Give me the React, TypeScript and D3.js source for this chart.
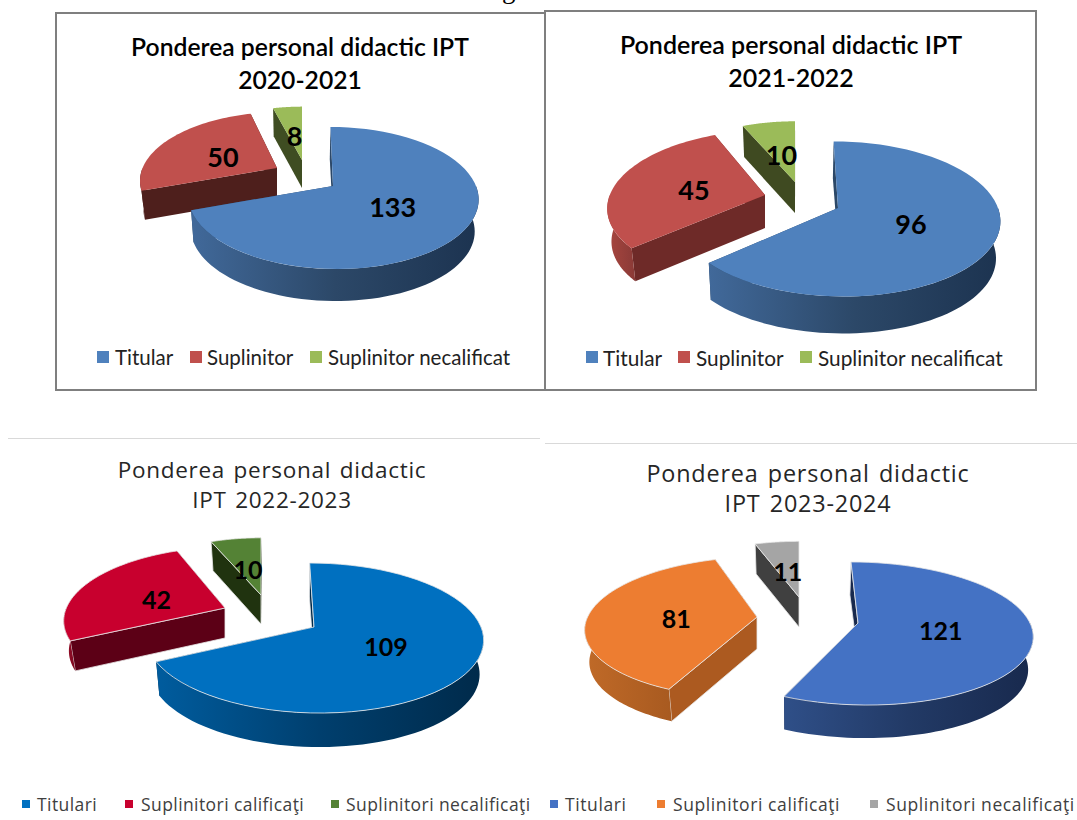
import * as d3 from "d3";

const legendTop = ["Titular", "Suplinitor", "Suplinitor necalificat"];
const legendBottom = ["Titulari", "Suplinitori calificaţi", "Suplinitori necalificaţi"];

const values2021 = [133, 50, 8];
const values2122 = [96, 45, 10];
const values2223 = [109, 42, 10];
const values2324 = [121, 81, 11];

const titles2021 = ["Ponderea personal didactic IPT", "2020-2021"];
const titles2122 = ["Ponderea personal didactic IPT", "2021-2022"];
const titles2223 = ["Ponderea personal didactic", "IPT 2022-2023"];
const titles2324 = ["Ponderea personal didactic", "IPT 2023-2024"];

const topFont = "Lato, 'Open Sans', sans-serif";
const bottomFont = "'Open Sans', 'Noto Sans', sans-serif";
const labelR = 0.48;
const converge = 0.022; // lower rim sits a bit closer to the middle than the upper one

type SliceStyle = {
  cx: number;
  cy: number;
  scale: number;
  skew: number;
  depth: number;
  top: string;
  face: string;
  side: string[];
};

type Panel = {
  id: string;
  values: number[];
  rx: number;
  ry: number;
  persp: number;
  vx: number;
  outline: boolean;
  labelSize: number;
  slices: SliceStyle[];
};

const panels: Panel[] = [
  {
    id: "p1",
    values: values2021,
    rx: 143,
    ry: 69,
    persp: 0.169,
    vx: 300,
    outline: false,
    labelSize: 27,
    slices: [
      { cx: 333, cy: 186, scale: 1, skew: -3, depth: 32, top: "#4f81bd", face: "#2c4868", side: ["#41699a", "#2c4868", "#1c3350"] },
      { cx: 277, cy: 168, scale: 0.94, skew: 5, depth: 29, top: "#c0504d", face: "#4e1f1c", side: ["#4e1f1c", "#4e1f1c"] },
      { cx: 302, cy: 160, scale: 0.89, skew: 0, depth: 28, top: "#9bbb59", face: "#3f4d22", side: ["#6f8a3f", "#56702f"] },
    ],
  },
  {
    id: "p2",
    values: values2122,
    rx: 160,
    ry: 76,
    persp: 0.141,
    vx: 800,
    outline: false,
    labelSize: 27,
    slices: [
      { cx: 838, cy: 208, scale: 1, skew: -5, depth: 37, top: "#4f81bd", face: "#2c4868", side: ["#41699a", "#2c4868", "#1c3350"] },
      { cx: 765, cy: 195, scale: 0.97, skew: 7, depth: 33, top: "#c0504d", face: "#6e2a28", side: ["#a8463f", "#8a3a37"] },
      { cx: 795, cy: 182, scale: 0.9, skew: 0, depth: 31, top: "#9bbb59", face: "#3f4a21", side: ["#6f8a3f", "#56702f"] },
    ],
  },
  {
    id: "p3",
    values: values2223,
    rx: 167,
    ry: 73.4,
    persp: 0.147,
    vx: 300,
    outline: true,
    labelSize: 25,
    slices: [
      { cx: 314, cy: 627, scale: 1, skew: -5, depth: 34, top: "#0070c0", face: "#002a4a", side: ["#005c9e", "#003f6e", "#002a4a"] },
      { cx: 225, cy: 608, scale: 0.95, skew: 7, depth: 30, top: "#c8002e", face: "#5c0016", side: ["#a00a28", "#7a0a20"] },
      { cx: 261, cy: 595, scale: 0.88, skew: 0, depth: 29, top: "#548235", face: "#20330f", side: ["#3f6428", "#2f4c1c"] },
    ],
  },
  {
    id: "p4",
    values: values2324,
    rx: 172,
    ry: 70,
    persp: 0.147,
    vx: 800,
    outline: true,
    labelSize: 25,
    slices: [
      { cx: 858, cy: 623, scale: 1, skew: -8, depth: 33, top: "#4472c4", face: "#18294d", side: ["#2f4f88", "#223a66", "#18294d"] },
      { cx: 757, cy: 617, scale: 0.985, skew: 7, depth: 32, top: "#ed7d31", face: "#ac5a20", side: ["#c06a28", "#a85a20"] },
      { cx: 799, cy: 597, scale: 0.9, skew: 0, depth: 30, top: "#a5a5a5", face: "#404040", side: ["#666666", "#505050"] },
    ],
  },
];

const pie = d3
  .pie<number>()
  .sort(null)
  .value((d) => d)
  .startAngle(0)
  .endAngle(Math.PI * 2);

const line = d3.line<[number, number]>();

function PiePanel({ panel }: { panel: Panel }) {
  const arcs = pie(panel.values);

  const project = (s: SliceStyle, angle: number, r: number, drop = 0): [number, number] => {
    const X = Math.sin(angle) * r * s.scale;
    const Y = Math.cos(angle) * r * s.scale;
    const k = 1 / (1 + panel.persp * Y);
    const x = s.cx + k * (panel.rx * X + s.skew * Y);
    return [
      drop ? x + (panel.vx - x) * converge : x,
      s.cy - k * panel.ry * Y + drop,
    ];
  };

  const arcPoints = (s: SliceStyle, a0: number, a1: number, drop = 0) =>
    d3.range(0, 61).map((i) => project(s, a0 + ((a1 - a0) * i) / 60, 1, drop));

  // painter's order: small far slice first, the big front slice last
  const order = [2, 1, 0];

  return (
    <g>
      <defs>
        {panel.slices.map((s, i) => (
          <linearGradient key={i} id={`${panel.id}-side-${i}`} x1="0" x2="1" y1="0" y2="0">
            {s.side.map((c, j) => (
              <stop key={j} offset={j / (s.side.length - 1)} stopColor={c} />
            ))}
          </linearGradient>
        ))}
      </defs>
      {order.map((i) => {
        const s = panel.slices[i];
        const a = arcs[i];
        const apex = project(s, 0, 0);
        const apexLow: [number, number] = [apex[0], apex[1] + s.depth];
        const from = Math.max(a.startAngle, Math.PI / 2);
        const to = Math.min(a.endAngle, (Math.PI * 3) / 2);
        const hasSide = to > from;
        const sideTop = hasSide ? arcPoints(s, from, to) : [];
        const sideLow = hasSide ? arcPoints(s, from, to, s.depth).reverse() : [];
        const startPt = project(s, a.startAngle, 1);
        const startLow = project(s, a.startAngle, 1, s.depth);
        const endPt = project(s, a.endAngle, 1);
        const endLow = project(s, a.endAngle, 1, s.depth);
        const edge = panel.outline ? "#e8e8e8" : "none";
        const mid = (a.startAngle + a.endAngle) / 2;
        const [lx, ly] = project(s, mid, labelR);
        return (
          <g key={i}>
            <path d={line([apex, endPt, endLow, apexLow])! + "Z"} fill={s.face} />
            <path d={line([apex, startPt, startLow, apexLow])! + "Z"} fill={s.face} stroke={edge} strokeWidth={0.8} />
            {hasSide && (
              <path
                d={line([...sideTop, ...sideLow])! + "Z"}
                fill={`url(#${panel.id}-side-${i})`}
              />
            )}
            <path
              d={line([apex, ...arcPoints(s, a.startAngle, a.endAngle)])! + "Z"}
              fill={s.top}
              stroke={edge}
              strokeWidth={0.8}
            />
            <text
              x={lx}
              y={ly + (i > 0 ? 2.5 : 0)}
              textAnchor="middle"
              dominantBaseline="central"
              fontFamily={topFont}
              fontWeight={700}
              fontSize={panel.labelSize}
              fill="#000"
            >
              {panel.values[i]}
            </text>
          </g>
        );
      })}
    </g>
  );
}

function Title({ lines, x, y, step, font, size, weight, spacing }: {
  lines: string[]; x: number; y: number; step: number; font: string; size: number; weight: number; spacing: number;
}) {
  return (
    <>
      {lines.map((t, i) => (
        <text
          key={t}
          x={x}
          y={y + i * step}
          textAnchor="middle"
          fontFamily={font}
          fontSize={size}
          fontWeight={weight}
          letterSpacing={spacing}
          wordSpacing={spacing * 3}
          fill={weight > 500 ? "#000" : "#262626"}
        >
          {t}
        </text>
      ))}
    </>
  );
}

function Legend({ names, colors, markX, textX, y, box, font, size, color, spacing }: {
  names: string[]; colors: string[]; markX: number[]; textX: number[]; y: number; box: number; font: string; size: number; color: string; spacing: number;
}) {
  return (
    <>
      {names.map((n, i) => (
        <g key={n}>
          <rect x={markX[i]} y={y - box / 2} width={box} height={box} fill={colors[i]} />
          <text x={textX[i]} y={y} dominantBaseline="central" fontFamily={font} fontSize={size} letterSpacing={spacing} fill={color}>
            {n}
          </text>
        </g>
      ))}
    </>
  );
}

export default function App() {
  return (
    <svg
      width={1077}
      height={820}
      style={{ position: "absolute", left: 0, top: 0, background: "#fff" }}
    >
      <text x={502} y={-2} fontFamily="'Liberation Serif', serif" fontSize={27} fill="#000">g</text>

      <rect x={56} y={13} width={489} height={377} fill="#fff" stroke="#7f7f7f" strokeWidth={2} />
      <rect x={545} y={11} width={491} height={379} fill="#fff" stroke="#7f7f7f" strokeWidth={2} />
      <line x1={8} x2={540} y1={438.5} y2={438.5} stroke="#d9d9d9" />
      <line x1={545} x2={1077} y1={443.5} y2={443.5} stroke="#d9d9d9" />

      <Title lines={titles2021} x={300} y={56} step={33} font={topFont} size={24.7} weight={600} spacing={0} />
      <Title lines={titles2122} x={791} y={54} step={33} font={topFont} size={25} weight={600} spacing={0} />
      <Title lines={titles2223} x={272} y={478} step={30} font={bottomFont} size={22.5} weight={400} spacing={0.7} />
      <Title lines={titles2324} x={808} y={482} step={30} font={bottomFont} size={23.4} weight={400} spacing={0.8} />

      {panels.map((p) => (
        <PiePanel key={p.id} panel={p} />
      ))}

      <Legend names={legendTop} colors={["#4f81bd", "#c0504d", "#9bbb59"]} markX={[97, 190, 310]} textX={[115, 207, 328]} y={357} box={12} font={topFont} size={20.5} color="#222" spacing={0} />
      <Legend names={legendTop} colors={["#4f81bd", "#c0504d", "#9bbb59"]} markX={[586, 678, 800]} textX={[603, 696, 818]} y={357} box={12} font={topFont} size={20.8} color="#222" spacing={0} />
      <Legend names={legendBottom} colors={["#0070c0", "#c8002e", "#548235"]} markX={[22, 125, 331]} textX={[37, 141, 346]} y={804} box={8} font={bottomFont} size={17.5} color="#404040" spacing={0.42} />
      <Legend names={legendBottom} colors={["#4472c4", "#ed7d31", "#a5a5a5"]} markX={[550, 657, 870]} textX={[565, 673, 886]} y={804} box={8} font={bottomFont} size={17.5} color="#404040" spacing={0.6} />
    </svg>
  );
}
